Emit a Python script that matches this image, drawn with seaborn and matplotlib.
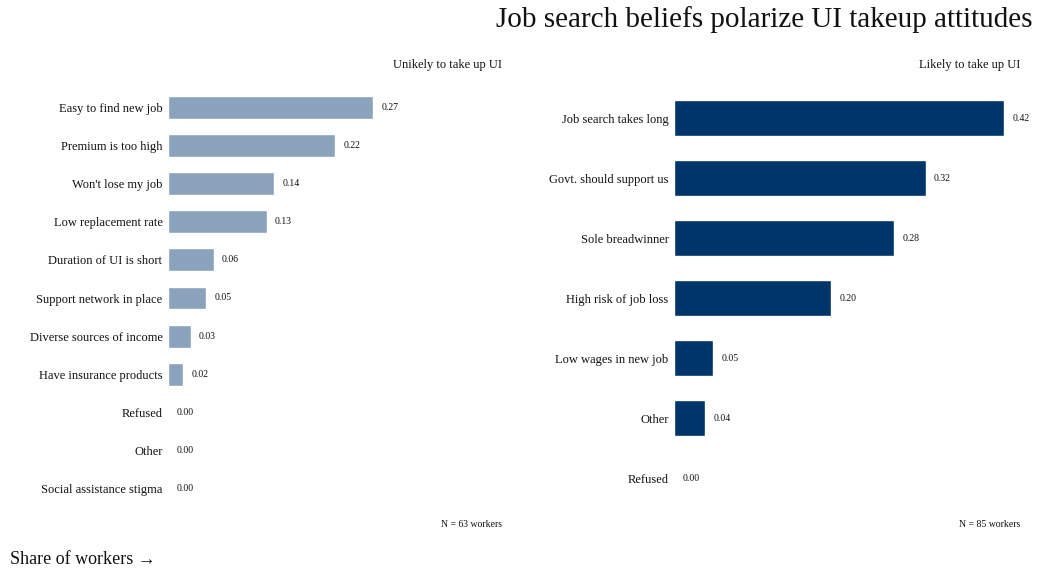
import matplotlib
matplotlib.use("Agg")
import matplotlib.pyplot as plt
import seaborn as sns
import pandas as pd

left_categories = ["Easy to find new job", "Premium is too high", "Won't lose my job",
                   "Low replacement rate", "Duration of UI is short", "Support network in place",
                   "Diverse sources of income", "Have insurance products", "Refused", "Other",
                   "Social assistance stigma"]
left_values = [0.27, 0.22, 0.14, 0.13, 0.06, 0.05, 0.03, 0.02, 0.00, 0.00, 0.00]

right_categories = ["Job search takes long", "Govt. should support us", "Sole breadwinner",
                    "High risk of job loss", "Low wages in new job", "Other", "Refused"]
right_values = [0.42, 0.32, 0.28, 0.20, 0.05, 0.04, 0.00]

title = "Job search beliefs polarize UI takeup attitudes"
left_subtitle = "Unikely to take up UI"
right_subtitle = "Likely to take up UI"
left_note = "N = 63 workers"
right_note = "N = 85 workers"
xlabel = "Share of workers \u2192"

sns.set_theme(style="white")
plt.rcParams["font.family"] = ["Liberation Serif", "DejaVu Serif"]

fig = plt.figure(figsize=(10.37, 5.73), dpi=100)
ax_l = fig.add_axes([168/1037, 1-508/573, 334/1037, 420/573])
ax_r = fig.add_axes([674/1037, 1-508/573, 346/1037, 420/573])

panels = [
    (ax_l, left_categories, left_values, "#8BA2BD", left_subtitle, left_note),
    (ax_r, right_categories, right_values, "#00356B", right_subtitle, right_note),
]
for ax, cats, vals, color, sub, note in panels:
    df = pd.DataFrame({"cat": cats, "val": vals})
    sns.barplot(data=df, x="val", y="cat", orient="h", color=color, width=0.6,
                saturation=1, ax=ax)
    ax.set_xlim(0, 0.44)
    ax.set_ylim(len(cats) - 0.5, -0.5)
    ax.bar_label(ax.containers[0], fmt="%.2f", padding=6, fontsize=7, color="#111111")
    ax.set_xlabel("")
    ax.set_ylabel("")
    ax.set_xticks([])
    ax.tick_params(axis="y", length=0, pad=4, labelsize=9, labelcolor="#111111")
    for s in ax.spines.values():
        s.set_visible(False)
    ax.text(1.0, 1.055, sub, transform=ax.transAxes, ha="right", va="center",
            fontsize=9, color="#111111")
    ax.text(1.0, -0.04, note, transform=ax.transAxes, ha="right", va="center",
            fontsize=7, color="#111111")

fig.text(1032/1037, 1-20/573, title, ha="right", va="center", fontsize=21, color="#111111")
fig.text(10/1037, 1-560/573, xlabel, ha="left", va="center", fontsize=13, color="#111111")

fig.savefig("out.png", dpi=100)
